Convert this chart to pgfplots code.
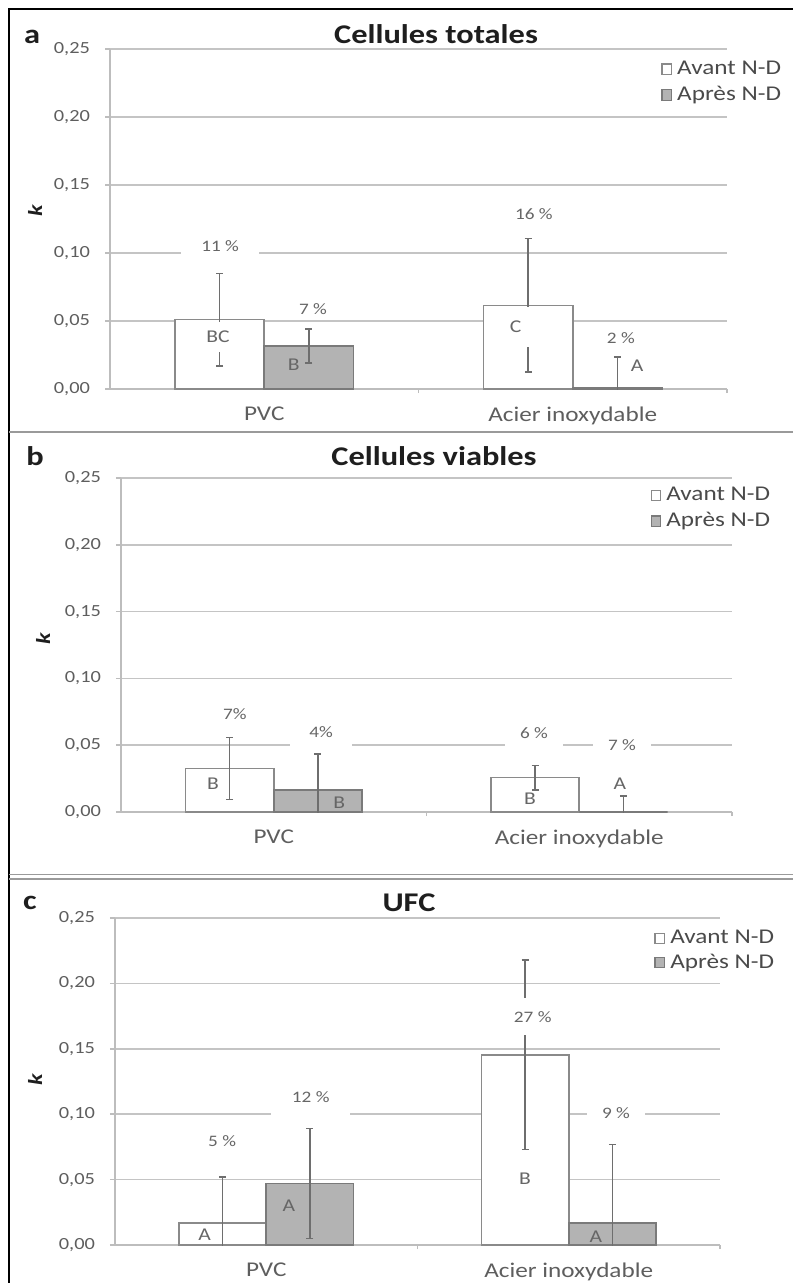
\documentclass[border=0pt]{standalone}
\usepackage{pgfplots}
\pgfplotsset{compat=1.18}
\usepackage{fontspec}
\setmainfont{Carlito}[FakeStretch=1.2]
\definecolor{gridc}{HTML}{C4C4C4}
\definecolor{axisc}{HTML}{BDBDBD}
\definecolor{edgec}{HTML}{8A8A8A}
\definecolor{grayf}{HTML}{B3B3B3}
\definecolor{edgec2}{HTML}{7A7A7A}
\definecolor{errc}{HTML}{6E6E6E}
\definecolor{tickc}{HTML}{5E5E5E}
\definecolor{annc}{HTML}{666666}
\definecolor{legc}{HTML}{4A4A4A}
\definecolor{titc}{HTML}{1E1E1E}
\definecolor{sepc}{HTML}{9A9A9A}
\pgfplotsset{
  errs/.style={error bars/.cd, y dir=both, y explicit,
    error bar style={errc, line width=0.7pt},
    error mark options={rotate=90, errc, mark size=1.75pt, line width=0.7pt}},
  avant/.style={ybar, bar width=0.289, bar shift=0pt, fill=white, draw=edgec, line width=0.8pt,
    legend image code/.code={\draw[fill=white, draw=edgec, line width=0.6pt] (0pt,-2.6pt) rectangle (4.8pt,2.6pt);},
    errs},
  apres/.style={ybar, bar width=0.289, bar shift=0pt, fill=grayf, draw=edgec2, line width=0.8pt,
    legend image code/.code={\draw[fill=grayf, draw=edgec2, line width=0.6pt] (0pt,-2.6pt) rectangle (4.8pt,2.6pt);},
    errs},
  panel/.style={
    scale only axis, anchor=south west,
    ymin=0, ymax=0.25, xmin=-0.5, xmax=1.5,
    ytick={0,0.05,0.1,0.15,0.2,0.25},
    xtick={0,1}, xticklabels={PVC, Acier inoxydable},
    minor xtick={0.5,1.5},
    axis x line*=bottom, axis y line*=left,
    ymajorgrids, grid style={gridc, line width=0.8pt},
    axis line style={axisc, line width=0.8pt},
    major x tick style={draw=none},
    minor x tick style={axisc, line width=0.6pt},
    y tick style={axisc, line width=0.8pt},
    tick align=outside, major tick length=2.5pt, minor tick length=2pt,
    y tick label style={/pgf/number format/fixed, /pgf/number format/fixed zerofill,
      /pgf/number format/precision=2, /pgf/number format/use comma,
      /pgf/number format/assume math mode=true,
      font=\fontsize{8.5}{10}\selectfont, text=tickc, xshift=-4pt},
    x tick label style={font=\fontsize{10.5}{12}\selectfont, text=tickc, yshift=-3pt},
    legend style={draw=none, fill=none, anchor=north west, font=\fontsize{10.5}{12}\selectfont,
      text=legc, row sep=2.5pt, column sep=1.5pt, inner sep=0pt, nodes={inner sep=1pt}},
    legend cell align=left,
  },
}
\tikzset{
  pct/.style={font=\fontsize{8}{9}\selectfont, text=annc, fill=white, inner xsep=7.5pt, inner ysep=1pt},
  lett/.style={font=\fontsize{9}{10}\selectfont, text=annc, inner sep=1pt},
}
\newcommand\ttl[1]{{\fontsize{13.5}{15}\selectfont\bfseries\color{titc}#1}}
\newcommand\kk{{\fontsize{10}{12}\selectfont\bfseries\itshape\color{titc}k}}
\begin{document}
\begin{tikzpicture}
\path[use as bounding box] (0,0) rectangle (396.5pt,-641.5pt);
\draw[black, line width=1.2pt] (4.5pt,-641.5pt) -- (4.5pt,-4.5pt) -- (396.5pt,-4.5pt);
\draw[sepc, line width=1.2pt] (4.5pt,-216pt) -- (396.5pt,-216pt);
\draw[sepc, line width=0.6pt] (4.5pt,-437.3pt) -- (396.5pt,-437.3pt);
\draw[sepc, line width=0.6pt] (4.5pt,-439.5pt) -- (396.5pt,-439.5pt);
% titles and letters
\node at (218pt,-17pt) {\ttl{Cellules totales}};
\node at (16pt,-18.5pt) {\ttl{a}};
\node[rotate=90] at (17.5pt,-105.5pt) {\kk};
\node at (217pt,-228pt) {\ttl{Cellules viables}};
\node at (17.5pt,-228pt) {\ttl{b}};
\node[rotate=90] at (21.5pt,-319.5pt) {\kk};
\node at (204.5pt,-451.5pt) {\ttl{UFC}};
\node at (15pt,-451.5pt) {\ttl{c}};
\node[rotate=90] at (17.5pt,-540pt) {\kk};

% ---------- panel a ----------
\begin{axis}[panel, at={(55pt,-194.5pt)}, width=308.5pt, height=170pt,
  legend style={at={(0.893,0.972)}}]
\addplot[avant] coordinates {(-0.1445,0.051) +- (0,0.034) (0.8555,0.0615) +- (0,0.049)};
\addplot[apres] coordinates {(0.1445,0.0315) +- (0,0.0125) (1.1445,0.001) +- (0,0.0225)};
\legend{Avant N-D, Après N-D}
\node[pct, inner xsep=10pt, inner ysep=2.5pt] at (axis cs:-0.143,0.1054) {11 \%};
\node[pct, inner ysep=1pt] at (axis cs:0.158,0.0588) {7 \%};
\node[pct] at (axis cs:0.874,0.1287) {16 \%};
\node[pct] at (axis cs:1.156,0.0377) {2 \%};
\node[lett, fill=white, inner xsep=2.5pt, inner ysep=4.6pt] at (axis cs:-0.15,0.0385) {BC};
\node[lett] at (axis cs:0.096,0.0176) {B};
\node[lett, fill=white, inner xsep=8pt, inner ysep=7pt] at (axis cs:0.815,0.0455) {C};
\node[lett] at (axis cs:1.209,0.017) {A};
\end{axis}

% ---------- panel b ----------
\begin{axis}[panel, at={(60.5pt,-406pt)}, width=305.5pt, height=167pt,
  legend style={at={(0.866,0.98)}}]
\addplot[avant] coordinates {(-0.1445,0.0327) +- (0,0.0232) (0.8555,0.0257) +- (0,0.0091)};
\addplot[apres] coordinates {(0.1445,0.0165) +- (0,0.027) (1.1445,0.0) +- (0,0.012)};
\legend{Avant N-D, Après N-D}
\node[pct] at (axis cs:-0.127,0.0734) {7\%};
\node[pct, inner xsep=9.5pt, inner ysep=4.5pt] at (axis cs:0.155,0.0596) {4\%};
\node[pct, inner xsep=7.5pt, inner ysep=4.5pt] at (axis cs:0.852,0.0594) {6 \%};
\node[pct, inner xsep=7.5pt] at (axis cs:1.14,0.0504) {7 \%};
\node[lett] at (axis cs:-0.199,0.0215) {B};
\node[lett] at (axis cs:0.214,0.0073) {B};
\node[lett] at (axis cs:0.839,0.0102) {B};
\node[lett] at (axis cs:1.133,0.021) {A};
\end{axis}

% ---------- panel c ----------
\begin{axis}[panel, at={(57.5pt,-622.5pt)}, width=302.5pt, height=163.5pt,
  legend style={at={(0.891,0.97)}, row sep=1.5pt}]
\addplot[avant] coordinates {(-0.1445,0.017) +- (0,0.035) (0.8555,0.1455) +- (0,0.0725)};
\addplot[apres] coordinates {(0.1445,0.047) +- (0,0.042) (1.1445,0.017) +- (0,0.060)};
\legend{Avant N-D, Après N-D}
\node[pct] at (axis cs:-0.146,0.0795) {5 \%};
\node[pct, inner xsep=10.5pt, inner ysep=6pt] at (axis cs:0.147,0.113) {12 \%};
\node[pct, inner xsep=4pt, inner ysep=6.5pt] at (axis cs:0.881,0.1746) {27 \%};
\node[pct, inner xsep=7.5pt] at (axis cs:1.156,0.1007) {9 \%};
\node[lett] at (axis cs:-0.204,0.0076) {A};
\node[lett] at (axis cs:0.075,0.0298) {A};
\node[lett] at (axis cs:0.855,0.051) {B};
\node[lett] at (axis cs:1.09,0.0064) {A};
\end{axis}
\end{tikzpicture}
\end{document}
